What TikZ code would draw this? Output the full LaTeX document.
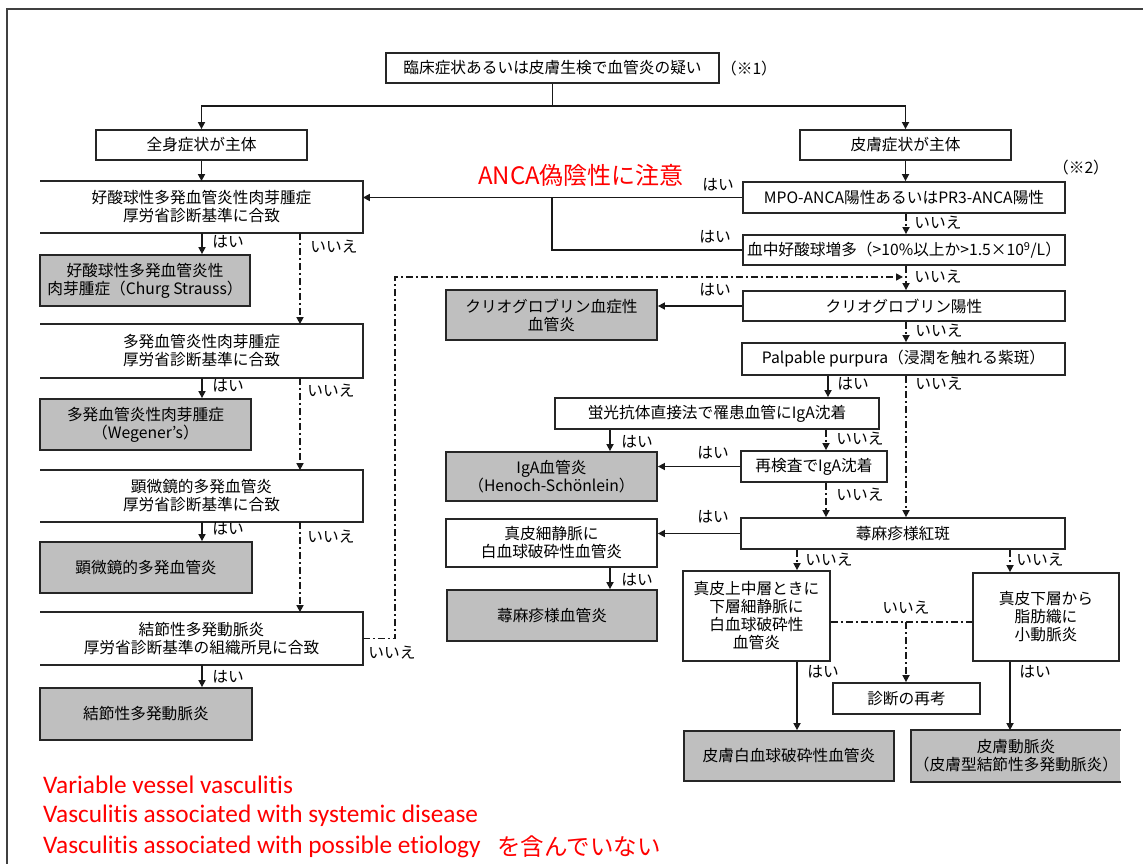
\documentclass[tikz,border=0pt]{standalone}
\usepackage{fontspec}
\newfontfamily\jp{Noto Sans CJK JP}
\newfontfamily\en[Ligatures=NoCommon]{Carlito}
\usetikzlibrary{arrows.meta}
\begin{document}
\begin{tikzpicture}[x=1pt,y=-1pt,
  box/.style={draw=black!85, line width=1.8pt, fill=white, inner sep=0pt, align=center,
    font=\jp\fontsize{15.7}{18}\selectfont, text=black},
  gbox/.style={box, fill=black!25},
  lbox/.style={box, draw=none},
  lab/.style={inner sep=0pt, font=\jp\fontsize{15.7}{18}\selectfont, text=black},
  arr/.style={line width=1.6pt, draw=black!90, -{Triangle[length=7pt,width=7pt]}},
  ln/.style={line width=1.6pt, draw=black!90},
  dd/.style={line width=1.6pt, draw=black!90, dash pattern=on 7pt off 3pt on 2pt off 3pt},
  red1/.style={inner sep=0pt, anchor=west, text=red, font=\en\fontsize{25.3}{30}\selectfont}
]
\useasboundingbox (0,0) rectangle (1143,864);
\draw[line width=2pt, black!75] (7,864) -- (7,9) -- (1143,9);

% column coordinates
\coordinate (cA) at (906,0);
\coordinate (cB) at (828,0);
\coordinate (cC) at (826,0);
\coordinate (cD) at (610,0);
\coordinate (cE) at (797,0);
\coordinate (cF) at (1010,0);
\coordinate (cL) at (202,0);
\coordinate (cM) at (300,0);
\coordinate (cV) at (395,0);
\coordinate (cBr) at (552,0);
\coordinate (hy) at (0,277);
\coordinate (hy2) at (0,622);

% top
\node[box, minimum width=333pt, minimum height=30pt] (top) at (552.5,68) {臨床症状あるいは皮膚生検で血管炎の疑い};
\node[lab] (n1) at (749,69) {（※1）};
\node[box, minimum width=211pt, minimum height=30pt] (zen) at (201.5,145) {全身症状が主体};
\node[box, minimum width=211pt, minimum height=30pt] (hifu) at (905.5,145) {皮膚症状が主体};

% left column
\node[lbox, minimum width=321pt, minimum height=50pt] (L1) at (201.5,207) {好酸球性多発血管炎性肉芽腫症\\厚労省診断基準に合致};
\node[gbox, minimum width=210pt, minimum height=51pt] (G1) at (145,280.5) {好酸球性多発血管炎性\\肉芽腫症（Churg Strauss）};
\node[lbox, minimum width=321pt, minimum height=52pt] (L2) at (201.5,351) {多発血管炎性肉芽腫症\\厚労省診断基準に合致};
\node[gbox, minimum width=211pt, minimum height=51pt] (G2) at (145.5,424.5) {多発血管炎性肉芽腫症\\（Wegener’s）};
\node[lbox, minimum width=321pt, minimum height=50pt] (L3) at (201.5,496) {顕微鏡的多発血管炎\\厚労省診断基準に合致};
\node[gbox, minimum width=212pt, minimum height=51pt] (G3) at (146,567.5) {顕微鏡的多発血管炎};
\node[lbox, minimum width=321pt, minimum height=51pt] (L4) at (201.5,638.5) {結節性多発動脈炎\\厚労省診断基準の組織所見に合致};
\node[gbox, minimum width=212pt, minimum height=52pt] (G4) at (146,714) {結節性多発動脈炎};
\foreach \n in {L1,L2,L3,L4}
  \draw[draw=black!85, line width=1.8pt] (\n.south west) -| (\n.north east) -- (\n.north west);

% right column
\node[box, minimum width=322pt, minimum height=31pt] (MPO) at (904,197.5) {MPO-ANCA陽性あるいはPR3-ANCA陽性};
\node[lab] (n2) at (1081,168) {（※2）};
\node[box, minimum width=322pt, minimum height=30pt] (Blood) at (904,250) {血中好酸球増多（>10\%以上か>1.5×10\textsuperscript{9}/L）};
\node[box, minimum width=322pt, minimum height=30pt] (Cryo) at (904,306) {クリオグロブリン陽性};
\node[gbox, minimum width=211pt, minimum height=50pt] (CryoG) at (551.5,315) {クリオグロブリン血症性\\血管炎};
\node[box, minimum width=323pt, minimum height=32pt] (Palp) at (903.5,359) {Palpable purpura（浸潤を触れる紫斑）};
\node[box, minimum width=324pt, minimum height=31pt] (Fluor) at (717,413.5) {蛍光抗体直接法で罹患血管にIgA沈着};
\node[gbox, minimum width=211pt, minimum height=49pt] (IgAG) at (551.5,476.5) {IgA血管炎\\（Henoch-Schönlein）};
\node[box, minimum width=146pt, minimum height=31pt] (Retest) at (814,466.5) {再検査でIgA沈着};
\node[box, minimum width=324pt, minimum height=31pt] (Urt) at (903,533.5) {蕁麻疹様紅斑};
\node[box, minimum width=211pt, minimum height=48pt] (Venule) at (551.5,543) {真皮細静脈に\\白血球破砕性血管炎};
\node[gbox, minimum width=210pt, minimum height=51pt] (UrtG) at (552,615.5) {蕁麻疹様血管炎};
\node[box, minimum width=147pt, minimum height=90pt] (Mid) at (756.5,616) {真皮上中層ときに\\下層細静脈に\\白血球破砕性\\血管炎};
\node[box, minimum width=146pt, minimum height=88pt] (Deep) at (1046,617) {真皮下層から\\脂肪織に\\小動脈炎};
\node[box, minimum width=147pt, minimum height=31pt] (Recon) at (906.5,698.5) {診断の再考};
\node[gbox, minimum width=210pt, minimum height=50pt] (LCVG) at (789,756) {皮膚白血球破砕性血管炎};
\node[gbox, draw=none, minimum width=208pt, minimum height=50pt] (ArtG) at (1016,756) {皮膚動脈炎\\（皮膚型結節性多発動脈炎）};
\draw[draw=black!85, line width=1.8pt] (ArtG.north east) -- (ArtG.north west) |- (ArtG.south east);

% red notes
\node[inner sep=0pt, text=red, font=\jp\fontsize{24}{28}\selectfont] (anca) at (581,175) {ANCA偽陰性に注意};
\node[red1] (r1) at (43,785) {Variable vessel vasculitis};
\node[red1] (r2) at (43,816) {Vasculitis associated with systemic disease};
\node[red1] (r3) at (43,847) {Vasculitis associated with possible etiology};
\node[inner sep=0pt, anchor=west, text=red, font=\jp\fontsize{23.5}{28}\selectfont] (r4) at (497,847) {を含んでいない};

% top connectors
\coordinate (j) at (552.5,106);
\draw[ln] (top.south) -- (j);
\draw[arr] (j) -| (zen.north);
\draw[arr] (j) -| (hifu.north);
\draw[arr] (zen.south) -- (L1.north);
\draw[arr] (hifu.south) -- (hifu.south |- MPO.north);

% left column connectors
\draw[arr] (L1.south -| cL) -- (G1.north -| cL);
\draw[arr,dd] (L1.south -| cM) -- (L2.north -| cM);
\draw[arr] (L2.south -| cL) -- (G2.north -| cL);
\draw[arr,dd] (L2.south -| cM) -- (L3.north -| cM);
\draw[arr] (L3.south -| cL) -- (G3.north -| cL);
\draw[arr,dd] (L3.south -| cM) -- (L4.north -| cM);
\draw[arr] (L4.south -| cL) -- (G4.north -| cL);
\draw[arr,dd] (L4.east) -| (cV |- hy) -- ([xshift=-3pt]cA |- hy);

\node[lab] (y1) at (228,242) {はい};
\node[lab] (x1) at (334,247) {いいえ};
\node[lab] (y2) at (228,386) {はい};
\node[lab] (x2) at (331,391) {いいえ};
\node[lab] (y3) at (228,529) {はい};
\node[lab] (x3) at (331,537) {いいえ};
\node[lab] (y4) at (228,677) {はい};
\node[lab] (x4) at (392,653) {いいえ};

% right column connectors
\draw[arr] (MPO.west) -- (MPO.west -| L1.east);
\draw[ln] (MPO.west -| cBr) |- (Blood.west);
\draw[arr,dd] (MPO.south -| cA) -- (Blood.north -| cA);
\draw[arr,dd] (Blood.south -| cA) -- (Cryo.north -| cA);
\draw[arr] (Cryo.west) -- (Cryo.west -| CryoG.east);
\draw[arr,dd] (Cryo.south -| cA) -- (Palp.north -| cA);
\draw[arr] (Palp.south -| cB) -- (Fluor.north -| cB);
\draw[arr,dd] (Palp.south -| cA) -- (Urt.north -| cA);
\draw[arr] (Fluor.south -| cD) -- (IgAG.north -| cD);
\draw[arr,dd] (Fluor.south -| cC) -- (Retest.north -| cC);
\draw[arr] (Retest.west) -- (Retest.west -| IgAG.east);
\draw[arr,dd] (Retest.south -| cC) -- (Urt.north -| cC);
\draw[arr] (Urt.west) -- (Urt.west -| Venule.east);
\draw[arr] (Venule.south -| cD) -- (UrtG.north -| cD);
\draw[arr,dd] (Urt.south -| cE) -- (Mid.north -| cE);
\draw[arr,dd] (Urt.south -| cF) -- (Deep.north -| cF);
\draw[dd] (Mid.east |- hy2) -- (Deep.west |- hy2);
\draw[arr,dd] (cA |- hy2) -- (Recon.north -| cA);
\draw[arr] (Mid.south -| cE) -- (LCVG.north -| cE);
\draw[arr] (Deep.south -| cF) -- (ArtG.north -| cF);

\node[lab] (y5) at (718,185) {はい};
\node[lab] (y6) at (715,237) {はい};
\node[lab] (x5) at (938,223) {いいえ};
\node[lab] (x6) at (938,277) {いいえ};
\node[lab] (y7) at (715,290) {はい};
\node[lab] (x7) at (939,331) {いいえ};
\node[lab] (y8) at (853,384) {はい};
\node[lab] (x8) at (939,384) {いいえ};
\node[lab] (y9) at (637,442) {はい};
\node[lab] (x9) at (860,439) {いいえ};
\node[lab] (y10) at (713,453) {はい};
\node[lab] (x10) at (860,495) {いいえ};
\node[lab] (y11) at (713,517) {はい};
\node[lab] (y12) at (637,580) {はい};
\node[lab] (x11) at (829,560) {いいえ};
\node[lab] (x12) at (1040,560) {いいえ};
\node[lab] (x13) at (906,608) {いいえ};
\node[lab] (y13) at (823,672) {はい};
\node[lab] (y14) at (1035,672) {はい};
\end{tikzpicture}
\end{document}
